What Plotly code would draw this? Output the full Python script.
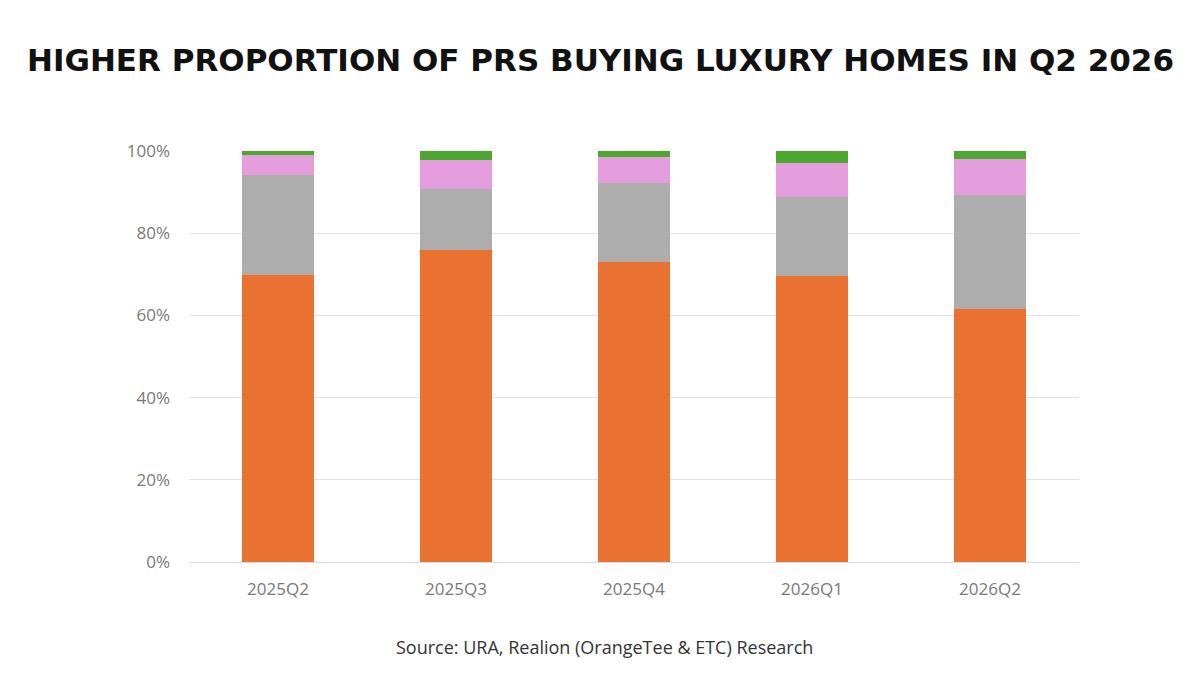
import plotly.graph_objects as go

quarters = ["2025Q2", "2025Q3", "2025Q4", "2026Q1", "2026Q2"]
singaporeans = [69.9, 75.9, 73.1, 69.6, 61.6]
prs = [24.2, 14.8, 19.2, 19.3, 27.7]
foreigners = [4.9, 7.0, 6.3, 8.1, 8.7]
others = [1.0, 2.3, 1.4, 3.0, 2.0]

series = [
    ("Singaporeans", singaporeans, "#E97132"),
    ("PRs", prs, "#ADADAD"),
    ("Foreigners", foreigners, "#E59EDD"),
    ("Others", others, "#4EA72E"),
]

fig = go.Figure()
for name, vals, color in series:
    fig.add_trace(go.Bar(
        x=quarters, y=[v / 100 for v in vals], name=name,
        marker=dict(color=color, line=dict(width=0)),
        hovertemplate="%{x}: %{y:.1%}<extra>" + name + "</extra>",
    ))

L, R, T, B = 189, 121, 151, 113
fig.update_layout(
    barmode="stack",
    bargap=0.595,
    width=1200, height=675,
    margin=dict(l=L, r=R, t=T, b=B),
    paper_bgcolor="white",
    plot_bgcolor="white",
    showlegend=False,
    font=dict(family="Open Sans, sans-serif", color="#7A7A7A"),
    xaxis=dict(
        showgrid=False, showline=True, linecolor="#D9D9D9", linewidth=1,
        ticks="", tickfont=dict(size=17, color="#7A7A7A"),
        ticklabelstandoff=12,
    ),
    yaxis=dict(
        range=[0, 1], dtick=0.2, tickformat=".0%",
        showgrid=True, gridcolor="#E3E3E3", gridwidth=1,
        zeroline=False, showline=False, ticks="",
        tickfont=dict(size=17, color="#7A7A7A"),
        ticklabelstandoff=18,
    ),
)

plot_h = 675 - T - B
plot_w = 1200 - L - R
def px_to_paper_x(px):
    return (px - L) / plot_w
def px_to_paper_y(py):
    return (675 - B - py) / plot_h

fig.add_annotation(
    text="<b>HIGHER PROPORTION OF PRS BUYING LUXURY HOMES IN Q2 2026</b>",
    x=px_to_paper_x(600), y=px_to_paper_y(60), xref="paper", yref="paper",
    xanchor="center", yanchor="middle", showarrow=False,
    font=dict(family="DejaVu Sans, sans-serif", size=31, color="#111111"),
)
fig.add_annotation(
    text="Source: URA, Realion (OrangeTee & ETC) Research",
    x=px_to_paper_x(604), y=px_to_paper_y(647), xref="paper", yref="paper",
    xanchor="center", yanchor="middle", showarrow=False,
    font=dict(family="Open Sans, sans-serif", size=18, color="#333333"),
)

fig.write_html("out.html")
